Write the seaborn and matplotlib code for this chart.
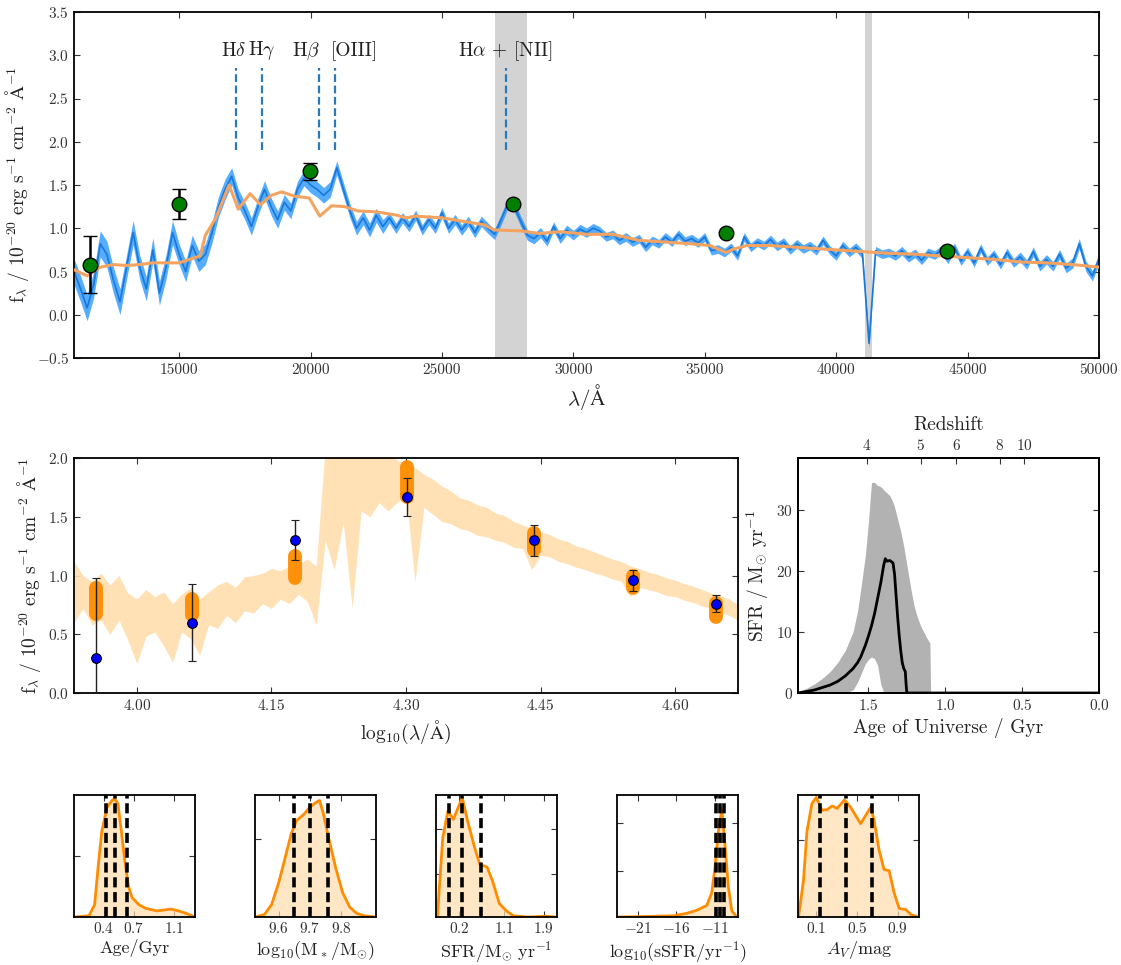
import numpy as np
import matplotlib
matplotlib.use("Agg")
import matplotlib.pyplot as plt
import seaborn as sns

# ---------------- top panel: observed spectrum + model ----------------
spec_wav = np.arange(11000, 50001, 250)
spec_flux = [
    0.50, 0.30, 0.08, 0.35, 0.82, 0.70, 0.40, 0.15,
    0.55, 0.95, 0.55, 0.30, 0.75, 0.25, 0.55, 0.95,
    0.70, 0.50, 0.80, 0.62, 0.70, 0.95, 1.25, 1.45,
    1.60, 1.35, 1.20, 1.02, 1.25, 1.45, 1.25, 1.10,
    1.30, 1.20, 1.45, 1.58, 1.50, 1.45, 1.38, 1.45,
    1.70, 1.45, 1.20, 1.00, 1.12, 0.98, 1.15, 1.02,
    1.12, 1.00, 1.12, 1.02, 1.15, 0.98, 1.10, 1.00,
    1.18, 1.00, 1.10, 0.98, 1.08, 0.95, 1.08, 1.00,
    0.93, 1.10, 1.28, 1.25, 1.08, 0.92, 0.88, 0.95,
    0.85, 1.02, 0.88, 0.98, 0.92, 0.99, 0.95, 1.00,
    0.97, 0.90, 0.93, 0.86, 0.90, 0.84, 0.88, 0.78,
    0.86, 0.82, 0.90, 0.84, 0.93, 0.85, 0.88, 0.83,
    0.90, 0.74, 0.76, 0.72, 0.78, 0.68, 0.90, 0.78,
    0.84, 0.80, 0.87, 0.79, 0.84, 0.75, 0.82, 0.76,
    0.80, 0.74, 0.86, 0.75, 0.68, 0.80, 0.72, 0.78,
    0.70, -0.33, 0.74, 0.70, 0.72, 0.68, 0.74, 0.66,
    0.71, 0.63, 0.72, 0.69, 0.75, 0.64, 0.78, 0.62,
    0.73, 0.60, 0.77, 0.62, 0.70, 0.58, 0.72, 0.60,
    0.67, 0.58, 0.73, 0.56, 0.64, 0.56, 0.70, 0.54,
    0.60, 0.82, 0.56, 0.45, 0.65,
]
# error half-width, one value per 2000 A stretch
spec_err_rows = [0.15, 0.14, 0.12, 0.10, 0.09, 0.08, 0.06, 0.06, 0.06, 0.055,
                 0.05, 0.05, 0.05, 0.05, 0.05, 0.05, 0.05, 0.05, 0.055, 0.06]
spec_err = np.repeat(spec_err_rows, 8)[:len(spec_wav)]

model_wav = [11000, 11500, 12000, 12500, 13000, 13500, 14000, 14500, 15000, 15500,
             15800, 16000, 16400, 16900, 17250, 17700, 18100, 18500, 18900, 19400,
             19950, 20350, 20800, 21300, 21800, 22500, 23300, 23600, 24000, 25000,
             26000, 26600, 27000, 28000, 28700, 29500, 30500, 31500, 32500, 33500,
             34500, 35200, 35800, 36100, 36600, 37500, 38500, 39500, 41000, 42000,
             43000, 44000, 45000, 46000, 47000, 48000, 49000, 50000]
model_flux = [0.52, 0.45, 0.55, 0.58, 0.57, 0.58, 0.60, 0.60, 0.60, 0.65,
              0.68, 0.92, 1.12, 1.50, 1.22, 1.40, 1.27, 1.38, 1.42, 1.37,
              1.35, 1.14, 1.26, 1.25, 1.20, 1.19, 1.15, 1.12, 1.14, 1.12,
              1.07, 1.04, 0.98, 0.97, 0.94, 0.96, 0.93, 0.93, 0.86, 0.84,
              0.82, 0.80, 0.72, 0.76, 0.80, 0.80, 0.78, 0.76, 0.73, 0.71,
              0.70, 0.68, 0.66, 0.64, 0.61, 0.60, 0.58, 0.55]

phot_wav = [11600, 15000, 19970, 27700, 35800, 44200]
phot_flux = [0.58, 1.28, 1.66, 1.28, 0.95, 0.74]
phot_err = [0.33, 0.17, 0.10, 0.02, 0.02, 0.02]

line_wav = [17146, 18145, 20319, 20929, 27433]
line_names = ["H$\\delta$", "H$\\gamma$", "H$\\beta$", "[OIII]", "H$\\alpha$ + [NII]"]
line_label_x = [17080, 18140, 19840, 21650, 27390]
masked = [(27000, 28250), (41100, 41350)]

# ---------------- middle panel: SED posterior ----------------
sed_logwav = [3.93, 3.94, 3.95, 3.96, 3.97, 3.98, 3.99, 4.00, 4.01, 4.02,
              4.03, 4.04, 4.05, 4.06, 4.07, 4.08, 4.09, 4.10, 4.11, 4.12,
              4.13, 4.14, 4.15, 4.16, 4.17, 4.18, 4.19, 4.20, 4.21, 4.22,
              4.23, 4.24, 4.25, 4.26, 4.27, 4.28, 4.29, 4.30, 4.31, 4.32,
              4.33, 4.34, 4.35, 4.36, 4.37, 4.38, 4.39, 4.40, 4.41, 4.42,
              4.43, 4.44, 4.45, 4.46, 4.47, 4.48, 4.49, 4.50, 4.51, 4.52,
              4.53, 4.54, 4.55, 4.56, 4.57, 4.58, 4.59, 4.60, 4.61, 4.62,
              4.63, 4.64, 4.65, 4.66, 4.67]
sed_lo = [0.60, 0.72, 0.58, 0.62, 0.50, 0.62, 0.45, 0.25, 0.48, 0.52,
          0.40, 0.26, 0.52, 0.46, 0.32, 0.58, 0.55, 0.66, 0.60, 0.70,
          0.68, 0.76, 0.72, 0.80, 0.76, 0.84, 0.78, 0.58, 1.30, 1.05,
          1.45, 0.72, 1.55, 1.50, 1.62, 1.55, 1.62, 1.68, 0.95, 1.58,
          1.52, 1.46, 1.44, 1.40, 1.38, 1.34, 1.33, 1.30, 1.28, 1.24,
          1.23, 1.05, 1.17, 1.16, 1.12, 1.10, 1.07, 1.05, 1.02, 1.00,
          0.97, 0.95, 0.82, 0.90, 0.88, 0.86, 0.83, 0.82, 0.79, 0.77,
          0.74, 0.72, 0.69, 0.66, 0.62]
sed_hi = [1.12, 1.00, 0.95, 1.02, 0.92, 1.00, 0.85, 0.80, 0.88, 0.82,
          0.86, 0.76, 0.84, 0.90, 0.80, 0.86, 0.92, 0.95, 0.90, 0.99,
          1.00, 1.02, 1.06, 1.04, 1.08, 1.10, 1.14, 1.08, 2.10, 2.10,
          2.10, 2.10, 2.10, 2.10, 2.10, 2.10, 1.98, 1.95, 1.92, 1.86,
          1.82, 1.76, 1.72, 1.66, 1.64, 1.60, 1.58, 1.53, 1.51, 1.46,
          1.43, 1.40, 1.37, 1.35, 1.31, 1.29, 1.25, 1.23, 1.20, 1.17,
          1.14, 1.12, 1.08, 1.06, 1.03, 1.01, 0.98, 0.96, 0.93, 0.91,
          0.88, 0.85, 0.83, 0.80, 0.75]

mid_phot_logwav = [3.955, 4.061, 4.176, 4.301, 4.443, 4.553, 4.645]
mid_phot_flux = [0.30, 0.60, 1.30, 1.67, 1.30, 0.96, 0.76]
mid_phot_err = [0.68, 0.33, 0.17, 0.16, 0.13, 0.09, 0.07]
post_phot_lo = [0.67, 0.66, 0.98, 1.67, 1.22, 0.89, 0.65]
post_phot_hi = [0.89, 0.80, 1.17, 1.92, 1.36, 1.00, 0.77]

# ---------------- right panel: star-formation history ----------------
sfh_age = [1.96, 1.90, 1.85, 1.80, 1.75, 1.70, 1.65, 1.60, 1.57, 1.55,
           1.52, 1.50, 1.48, 1.46, 1.44, 1.42, 1.40, 1.39, 1.38, 1.36,
           1.35, 1.34, 1.33, 1.32, 1.31, 1.30, 1.29, 1.28, 1.27, 1.26,
           1.255, 1.25, 1.24, 1.22, 1.20, 1.18, 1.16, 1.14, 1.12, 1.10,
           1.095, 1.00, 0.00]
sfh_med = [0.0, 0.25, 0.5, 0.9, 1.3, 1.9, 2.8, 4.0, 5.0, 5.9,
           7.8, 9.3, 11.0, 13.0, 15.5, 18.0, 21.0, 22.0, 21.6, 21.7,
           21.5, 21.3, 19.5, 16.0, 12.5, 9.5, 7.0, 5.0, 4.0, 3.5,
           1.5, 0.0, 0.0, 0.0, 0.0, 0.0, 0.0, 0.0, 0.0, 0.0,
           0.0, 0.0, 0.0]
sfh_hi = [0.2, 0.8, 1.5, 2.4, 3.5, 5.0, 7.0, 10.0, 13.5, 17.0,
          22.5, 28.0, 34.5, 34.5, 34.0, 33.8, 33.3, 33.0, 32.8, 32.3,
          31.8, 31.2, 30.5, 29.5, 28.5, 27.5, 26.5, 25.3, 24.0, 22.5,
          21.8, 21.0, 19.5, 16.5, 14.0, 12.3, 11.0, 10.0, 9.0, 8.2,
          0.0, 0.0, 0.0]
sfh_lo = [0.0, 0.0, 0.0, 0.0, 0.0, 0.0, 0.0, 0.5, 1.8, 3.0,
          4.8, 5.5, 5.9, 5.6, 4.5, 1.5, 0.0, 0.0, 0.0, 0.0,
          0.0, 0.0, 0.0, 0.0, 0.0, 0.0, 0.0, 0.0, 0.0, 0.0,
          0.0, 0.0, 0.0, 0.0, 0.0, 0.0, 0.0, 0.0, 0.0, 0.0,
          0.0, 0.0, 0.0]
z_tick_age = [1.51, 1.16, 0.93, 0.645, 0.485]
z_tick_labels = ["4", "5", "6", "8", "10"]

# ---------------- bottom row: 1D posteriors ----------------
age_x = [0.11, 0.25, 0.306, 0.34, 0.378, 0.43, 0.485, 0.51, 0.539, 0.574,
         0.61, 0.646, 0.68, 0.75, 0.82, 0.93, 1.07, 1.146, 1.22, 1.31]
age_d = [0.0, 0.01, 0.10, 0.40, 0.70, 0.90, 0.96, 0.965, 0.93, 0.70,
         0.45, 0.25, 0.16, 0.10, 0.07, 0.05, 0.065, 0.05, 0.03, 0.0]
age_pct = [0.42, 0.51, 0.63]

mass_x = [9.525, 9.554, 9.577, 9.60, 9.622, 9.64, 9.657, 9.68, 9.70, 9.72,
          9.731, 9.743, 9.76, 9.783, 9.805, 9.828, 9.85, 9.874, 9.91]
mass_d = [0.0, 0.02, 0.10, 0.28, 0.50, 0.68, 0.79, 0.84, 0.90, 0.94,
          0.955, 0.85, 0.65, 0.40, 0.20, 0.08, 0.03, 0.01, 0.0]
mass_pct = [9.65, 9.70, 9.757]

sfr_x = [-0.264, -0.242, -0.134, -0.028, 0.08, 0.258, 0.366, 0.508, 0.615, 0.758,
         0.866, 1.008, 1.15, 1.29, 1.58, 1.936, 2.15]
sfr_d = [0.0, 0.0, 0.65, 0.87, 0.80, 0.978, 0.79, 0.57, 0.43, 0.41,
         0.30, 0.11, 0.05, 0.01, 0.0, 0.006, 0.0]
sfr_pct = [-0.01, 0.258, 0.628]

ssfr_x = [-23.7, -20.7, -16.4, -14.65, -13.35, -12.05, -11.4, -11.0, -10.55, -10.1,
          -9.7, -9.26, -8.8, -8.15]
ssfr_d = [0.0, 0.003, 0.01, 0.03, 0.055, 0.095, 0.20, 0.40, 0.70, 0.88,
          0.60, 0.25, 0.05, 0.0]
ssfr_pct = [-10.9, -10.35, -9.8]

av_x = [-0.075, -0.026, 0.008, 0.057, 0.10, 0.156, 0.206, 0.255, 0.305, 0.377,
        0.437, 0.536, 0.635, 0.667, 0.717, 0.766, 0.816, 0.865, 0.915, 0.981,
        1.03, 1.10]
av_d = [0.0, 0.30, 0.70, 0.93, 0.98, 0.875, 0.88, 0.91, 0.89, 0.96,
        0.90, 0.765, 0.90, 0.80, 0.55, 0.39, 0.38, 0.20, 0.07, 0.06,
        0.02, 0.0]
av_pct = [0.14, 0.39, 0.645]

# ---------------- style ----------------
sns.set_style("ticks")
plt.rcParams.update({
    "font.family": "serif",
    "font.serif": ["cmr10", "DejaVu Serif"],
    "mathtext.fontset": "cm",
    "axes.formatter.use_mathtext": True,
    "axes.linewidth": 1.3,
    "axes.edgecolor": "black",
    "xtick.direction": "in",
    "ytick.direction": "in",
    "xtick.top": True,
    "ytick.right": True,
    "xtick.major.size": 4,
    "ytick.major.size": 4,
    "xtick.labelsize": 11,
    "ytick.labelsize": 11,
    "xtick.color": "#333333",
    "ytick.color": "#333333",
})

flux_label = (r"$\mathrm{f_{\lambda}\ /\ 10^{-20}\ erg\ s^{-1}\ cm^{-2}\ \AA^{-1}}$")

W, H = 1121, 965
fig = plt.figure(figsize=(W / 100, H / 100), dpi=100)


def px_axes(left, top, right, bottom):
    return fig.add_axes([left / W, 1 - bottom / H, (right - left) / W, (bottom - top) / H])


# top panel
ax = px_axes(74, 12, 1099, 358)
for lo, hi in masked:
    ax.axvspan(lo, hi, color="lightgray", lw=0, zorder=0)
ax.fill_between(spec_wav, np.array(spec_flux) - spec_err, np.array(spec_flux) + spec_err,
                color="dodgerblue", alpha=0.75, lw=0, zorder=1)
sns.lineplot(x=spec_wav, y=spec_flux, ax=ax, color="#1a78d6", lw=1.2,
             estimator=None, sort=False, zorder=2)
sns.lineplot(x=model_wav, y=model_flux, ax=ax, color="sandybrown", lw=2.2,
             estimator=None, sort=False, zorder=3)
ax.errorbar(phot_wav, phot_flux, yerr=phot_err, fmt="o", color="green", mec="black",
            mew=1, ms=10.5, ecolor="black", elinewidth=1.8, capsize=5, capthick=1.8, zorder=5)
for lw_, name, lx in zip(line_wav, line_names, line_label_x):
    ax.plot([lw_, lw_], [1.9, 2.85], color="#2a7ab9", lw=1.6, dashes=(3.5, 1.6), zorder=4)
    ax.text(lx, 3.05, name, ha="center", va="center", fontsize=14, color="#222222")
ax.set_xlim(11000, 50000)
ax.set_ylim(-0.5, 3.5)
ax.set_xticks([15000, 20000, 25000, 30000, 35000, 40000, 45000, 50000])
ax.set_yticks(np.arange(-0.5, 3.51, 0.5))
ax.xaxis.set_major_formatter(plt.FuncFormatter(lambda v, p: f"{int(v)}"))
ax.yaxis.set_major_formatter(plt.FuncFormatter(lambda v, p: f"${v:.1f}$"))
ax.set_xlabel(r"$\lambda / \mathrm{\AA}$", fontsize=15, color="#222222")
ax.set_ylabel(flux_label, fontsize=14, color="#222222")

# middle panel
ax = px_axes(74, 458, 738, 693)
ax.fill_between(sed_logwav, sed_lo, sed_hi, color="navajowhite", alpha=0.9, lw=0, zorder=1)
for x, lo, hi in zip(mid_phot_logwav, post_phot_lo, post_phot_hi):
    ax.plot([x, x], [lo, hi], color="darkorange", lw=10, solid_capstyle="round",
            alpha=0.95, zorder=2)
ax.errorbar(mid_phot_logwav, mid_phot_flux, yerr=mid_phot_err, fmt="o", color="blue",
            mec="black", mew=0.8, ms=7, ecolor="#222222", elinewidth=1, capsize=3, zorder=4)
ax.set_xlim(3.93, 4.67)
ax.set_ylim(0, 2.0)
ax.set_xticks([4.00, 4.15, 4.30, 4.45, 4.60])
ax.xaxis.set_major_formatter(plt.FuncFormatter(lambda v, p: f"${v:.2f}$"))
ax.yaxis.set_major_formatter(plt.FuncFormatter(lambda v, p: f"${v:.1f}$"))
ax.set_xlabel(r"$\mathrm{log_{10}(\lambda/\AA)}$", fontsize=14, color="#222222")
ax.set_ylabel(flux_label, fontsize=14, color="#222222")

# right panel: SFH
ax = px_axes(798, 458, 1099, 693)
ax.fill_between(sfh_age, sfh_lo, sfh_hi, color="gray", alpha=0.6, lw=0, zorder=1)
sns.lineplot(x=sfh_age, y=sfh_med, ax=ax, color="black", lw=2, estimator=None,
             sort=False, zorder=2)
ax.set_xlim(1.958, 0.0)
ax.set_ylim(0, 38.5)
ax.set_xticks([1.5, 1.0, 0.5, 0.0])
ax.set_yticks([0, 10, 20, 30])
ax.tick_params(top=False)
ax.xaxis.set_major_formatter(plt.FuncFormatter(lambda v, p: f"${v:.1f}$"))
ax.yaxis.set_major_formatter(plt.FuncFormatter(lambda v, p: f"${int(v)}$"))
ax.set_xlabel("Age of Universe / Gyr", fontsize=14, color="#222222")
ax.set_ylabel(r"$\mathrm{SFR\ /\ M_{\odot}\ yr^{-1}}$", fontsize=14, color="#222222")
axz = ax.twiny()
axz.set_xlim(1.958, 0.0)
axz.set_xticks(z_tick_age)
axz.set_xticklabels([f"${t}$" for t in z_tick_labels])
axz.tick_params(direction="in", top=True, bottom=False)
axz.set_xlabel("Redshift", fontsize=14, color="#222222", labelpad=6)

# bottom row
posteriors = [
    (age_x, age_d, age_pct, (0.1, 1.31), [0.4, 0.7, 1.1], ["0.4", "0.7", "1.1"],
     [0.5], "Age/Gyr"),
    (mass_x, mass_d, mass_pct, (9.524, 9.912), [9.6, 9.7, 9.8], ["9.6", "9.7", "9.8"],
     [0.64], r"$\mathrm{log_{10}(M_*/M_{\odot})}$"),
    (sfr_x, sfr_d, sfr_pct, (-0.27, 2.17), [0.2, 1.1, 1.9], ["0.2", "1.1", "1.9"],
     [0.35, 0.72], r"$\mathrm{SFR/M_{\odot}\ yr^{-1}}$"),
    (ssfr_x, ssfr_d, ssfr_pct, (-23.7, -8.0), [-21, -16, -11], ["-21", "-16", "-11"],
     [0.38, 0.77], r"$\mathrm{log_{10}(sSFR/yr^{-1})}$"),
    (av_x, av_d, av_pct, (-0.08, 1.11), [0.1, 0.5, 0.9], ["0.1", "0.5", "0.9"],
     [0.63], r"$A_V/\mathrm{mag}$"),
]
for i, (x, d, pct, xlim, ticks, labels, yt, xlabel) in enumerate(posteriors):
    left = 74 + 181 * i
    ax = px_axes(left, 795, left + 121, 917)
    ax.fill_between(x, 0, d, color="navajowhite", alpha=0.7, lw=0, zorder=1)
    sns.lineplot(x=x, y=d, ax=ax, color="darkorange", lw=2, estimator=None,
                 sort=False, zorder=2)
    for p in pct:
        ax.axvline(p, color="black", lw=2.6, dashes=(2.8, 1.3), zorder=3)
    ax.set_xlim(*xlim)
    ax.set_ylim(0, 1.0)
    ax.set_xticks(ticks)
    ax.set_xticklabels([f"${t}$" for t in labels])
    ax.tick_params(axis="x", pad=3)
    ax.set_yticks(yt)
    ax.set_yticklabels([])
    ax.set_xlabel(xlabel, fontsize=13, color="#222222", labelpad=2)

fig.savefig("out.png", dpi=100)
